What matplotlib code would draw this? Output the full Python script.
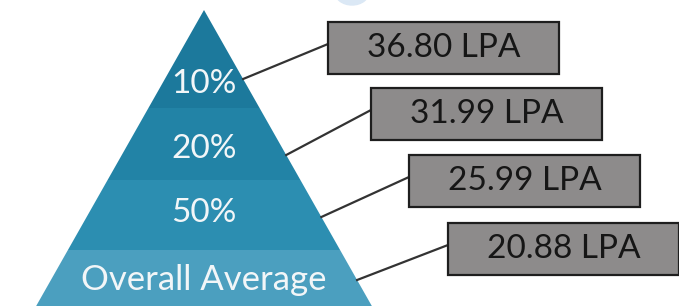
import matplotlib
matplotlib.use("Agg")
import matplotlib.pyplot as plt
from matplotlib.patches import Polygon, Rectangle, Ellipse

plt.rcParams['font.family'] = ['Lato', 'DejaVu Sans']

# Data
tiers = ["10%", "20%", "50%", "Overall Average"]
salaries = [36.80, 31.99, 25.99, 20.88]
unit = "LPA"
tier_colors = ["#1c799c", "#2283a6", "#2c8eb1", "#4b9fbf"]

# Layout (pixel space, y grows downward)
W, H = 679, 306
apex_x, apex_y = 204, 10
slope = 0.567                          # half-width growth per pixel of height
bounds = [apex_y, 108, 180, 250, 320]  # tier tops/bottoms
label_y = [84, 149, 213, 280]
label_size = [24, 24, 24, 25]
line_start_y = [79, 155, 217, 280]
box_left = [328, 371, 409, 448]
box_top = [22, 88, 155, 223]
box_w, box_h = 231, 52


def half_width(y):
    return slope * (y - apex_y)


fig = plt.figure(figsize=(W / 100, H / 100), dpi=100)
ax = fig.add_axes([0, 0, 1, 1])
ax.set_xlim(0, W)
ax.set_ylim(H, 0)
ax.axis('off')

# faint decoration at the top
ax.add_patch(Ellipse((352, -8), 34, 26, color="#dbe8f5", zorder=0))

# pyramid tiers
for i, name in enumerate(tiers):
    y0, y1 = bounds[i], bounds[i + 1]
    pts = [(apex_x - half_width(y0), y0), (apex_x + half_width(y0), y0),
           (apex_x + half_width(y1), y1), (apex_x - half_width(y1), y1)]
    ax.add_patch(Polygon(pts, closed=True, facecolor=tier_colors[i],
                         edgecolor='none', zorder=1))
    ax.text(apex_x, label_y[i], name, color="#f2f6f8", fontsize=label_size[i],
            ha='center', va='center', zorder=3)

# callout boxes + connector lines
for i, val in enumerate(salaries):
    x0 = apex_x + half_width(line_start_y[i])
    y0 = line_start_y[i]
    x1 = box_left[i]
    y1 = box_top[i] + box_h / 2 - 4
    ax.plot([x0, x1], [y0, y1], color="#333333", lw=1.6, zorder=2)
    ax.add_patch(Rectangle((box_left[i], box_top[i]), box_w, box_h,
                           facecolor="#8d8b8b", edgecolor="#1e1e1e",
                           lw=1.6, zorder=3))
    ax.text(box_left[i] + box_w / 2, box_top[i] + box_h / 2,
            f"{val:.2f} {unit}", color="#161616", fontsize=24,
            ha='center', va='center', zorder=4)

fig.savefig("out.png", dpi=100)
